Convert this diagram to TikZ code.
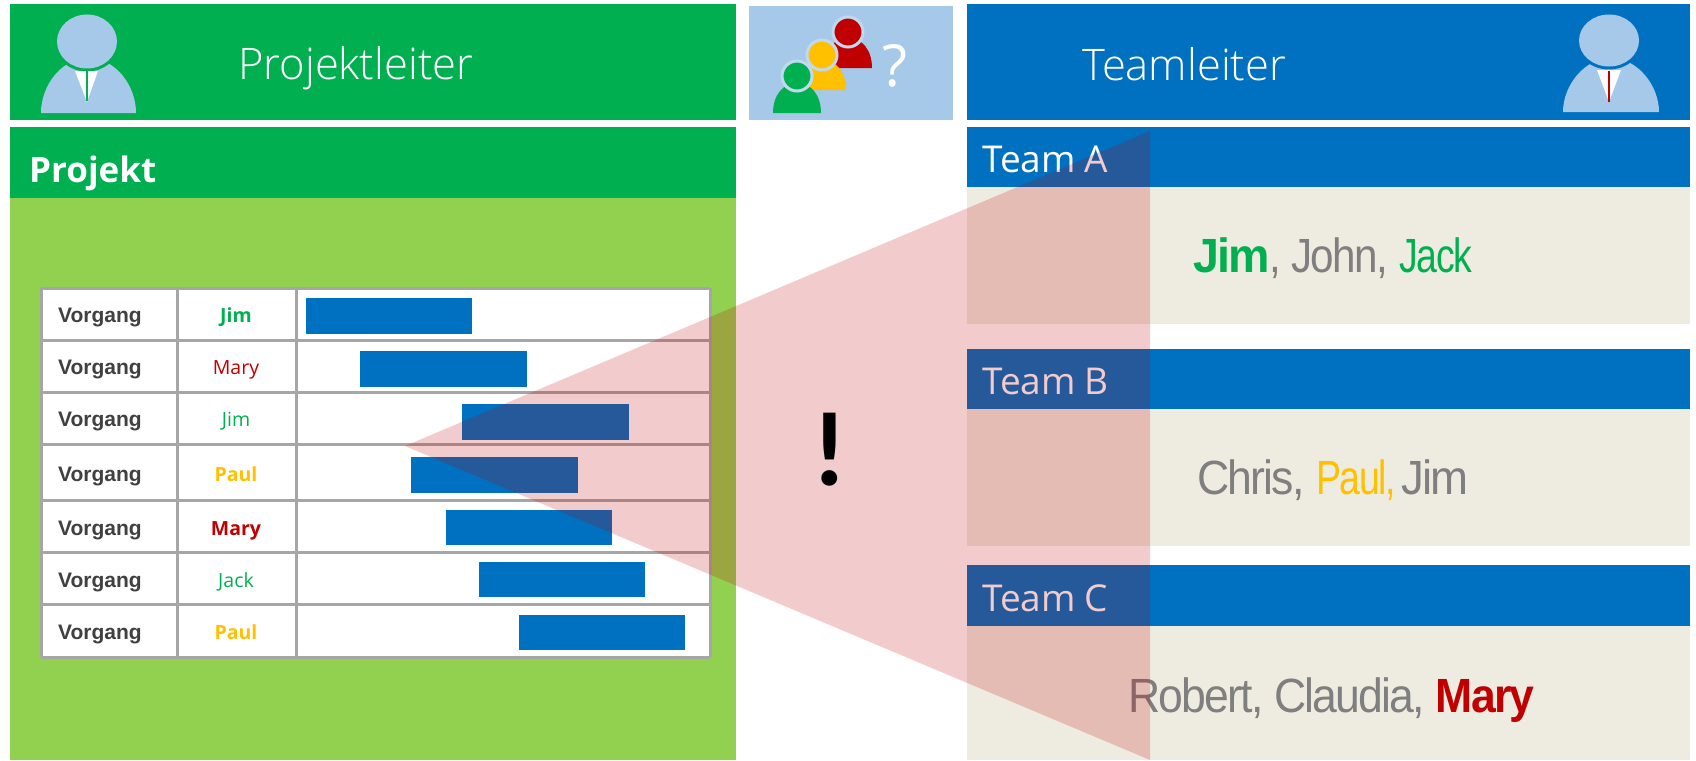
\documentclass[tikz,border=0pt]{standalone}
\usepackage{fontspec}
\setmainfont{Open Sans}
\newfontfamily\thinfont{Open Sans Light}
\newfontfamily\arialfont[LetterSpace=-4]{Liberation Sans}
\newfontfamily\cellfont{Liberation Sans}
\newfontfamily\markfont{Carlito}
\usepackage{tikz}

\definecolor{pmgreen}{HTML}{00B050}
\definecolor{pmlime}{HTML}{92D050}
\definecolor{tlblue}{HTML}{0070C0}
\definecolor{paleblue}{HTML}{A6C8E9}
\definecolor{sand}{HTML}{EEECE1}
\definecolor{alert}{HTML}{C00000}
\definecolor{amber}{HTML}{FFC000}
\definecolor{rulegray}{HTML}{A6A6A6}
\definecolor{namegray}{HTML}{7F7F7F}

\newcommand\squeezed[2]{\scalebox{#1}[1]{#2}}

\tikzset{
  headtext/.style={anchor=base west,inner sep=0pt,text=white,font=\thinfont\fontsize{43.5}{43.5}\selectfont},
  teamtext/.style={anchor=base west,inner sep=0pt,text=white,font=\fontsize{37}{37}\selectfont},
  nametext/.style={anchor=base west,inner sep=0pt,text=namegray,transform shape,font=\arialfont\fontsize{48}{48}\selectfont},
  taskcell/.style={anchor=base west,inner sep=0pt,text=black!75,font=\cellfont\bfseries\fontsize{21}{21}\selectfont},
  whocell/.style={anchor=base,inner sep=0pt},
  gridline/.style={rulegray,line width=3pt}
}

\begin{document}
\begin{tikzpicture}[x=1pt,y=-1pt]
  \useasboundingbox (0,0) rectangle (1696,760);

  % left side
  \fill[pmgreen] (10,4) rectangle (736,120);
  \fill[pmgreen] (10,127) rectangle (736,198);
  \fill[pmlime] (10,198) rectangle (736,760);
  \fill[paleblue] (41,113) .. controls (41,85) and (62,58) .. (88.5,58) .. controls (115,58) and (136,85) .. (136,113) -- cycle;
  \fill[pmgreen] (87,41.5) ellipse [x radius=33, y radius=30];
  \fill[paleblue] (87,41.5) ellipse [x radius=30, y radius=27];
  \fill[white] (75,71) -- (98,71) -- (87,102) -- cycle;
  \draw[pmgreen,line width=2pt] (87,71) -- (87,101);
  \node[headtext] (pmtitle) at (238,79) {Projektleiter};
  \node[anchor=base west,inner sep=0pt,text=white,font=\bfseries\fontsize{35}{35}\selectfont] (pmproject) at (29,182) {Projekt};

  % middle box
  \fill[paleblue] (749,6) rectangle (953,120);
  \foreach \px/\py/\hy/\col in {848/68/32/alert, 822/90/55/amber, 797/113/76/pmgreen}{
    \fill[\col] (\px-24,\py) .. controls (\px-24,\py-18) and (\px-14,\py-30) .. (\px,\py-30) .. controls (\px+14,\py-30) and (\px+24,\py-18) .. (\px+24,\py) -- cycle;
    \draw[fill=\col,draw=paleblue!70!white,line width=3pt] (\px,\hy) circle (15);
  };
  \node[anchor=base,inner sep=0pt,text=white,font=\fontsize{58}{58}\selectfont] (ask) at (895,86) {?};

  % table
  \fill[white] (41,288) rectangle (710,657);
  \foreach \xa/\xb/\ya/\yb in {306/472/298/334, 360/527/351/387, 462/629/404/440, 411/578/457/493, 446/612/510/545, 479/645/562/597, 519/685/615/650}{
    \fill[tlblue] (\xa,\ya) rectangle (\xb,\yb);
  };
  \foreach \y in {288,340,392,444,500,552,604,657}{
    \draw[gridline] (41,\y) -- (710,\y);
  };
  \foreach \x in {41,177,296,710}{
    \draw[gridline] (\x,288) -- (\x,657);
  };
  \foreach \n/\y/\who/\col/\wt in {1/322/Jim/pmgreen/\bfseries, 2/374/Mary/alert/, 3/426/Jim/pmgreen/, 4/481/Paul/amber/\bfseries, 5/535/Mary/alert/\bfseries, 6/587/Jack/pmgreen/, 7/639/Paul/amber/\bfseries}{
    \node[taskcell] (task\n) at (58,\y) {Vorgang};
    \node[whocell,text=\col,font=\wt\fontsize{19.5}{19.5}\selectfont] (who\n) at (236,\y) {\who};
  };

  % right side
  \fill[tlblue] (967,4) rectangle (1690,120);
  \fill[paleblue] (1563,112) .. controls (1563,85) and (1585,58) .. (1611,58) .. controls (1637,58) and (1659,85) .. (1659,112) -- cycle;
  \fill[tlblue] (1609,40.5) ellipse [x radius=33, y radius=29];
  \fill[paleblue] (1609,40.5) ellipse [x radius=30, y radius=26];
  \fill[white] (1597,70) -- (1621,70) -- (1609,102) -- cycle;
  \draw[alert,line width=2pt] (1609,71) -- (1609,102);
  \node[headtext] (tltitle) at (1082,81) {Teamleiter};

  \foreach \t/\yh/\ym/\ye/\yt in {A/127/187/324/172, B/349/409/546/394, C/565/626/760/611}{
    \fill[tlblue] (967,\yh) rectangle (1690,\ym);
    \fill[sand] (967,\ym) rectangle (1690,\ye);
    \node[teamtext] (team\t) at (982,\yt) {Team\hspace{-1pt} \t};
  };
  \node[nametext] (namesA) at (1193,272) {\squeezed{.97}{\bfseries\color{pmgreen}Jim}\squeezed{.88}{, John,} \squeezed{.78}{\color{pmgreen}Jack}};
  \node[nametext] (namesB) at (1197,494) {\squeezed{.93}{Chris,} \squeezed{.78}{\color{amber}Paul,}\hspace{-6pt} \squeezed{.95}{Jim}};
  \node[nametext,xscale=0.928] (namesC) at (1128,712) {Robert, Claudia, {\bfseries\color{alert}Mary}};

  % overlay
  \fill[alert,opacity=0.2] (405,446) -- (1150,131) -- (1150,760) -- cycle;
  \node[anchor=base,inner sep=0pt,font=\markfont\bfseries\fontsize{106}{106}\selectfont] (hint) at (830,485) {!};
\end{tikzpicture}
\end{document}
